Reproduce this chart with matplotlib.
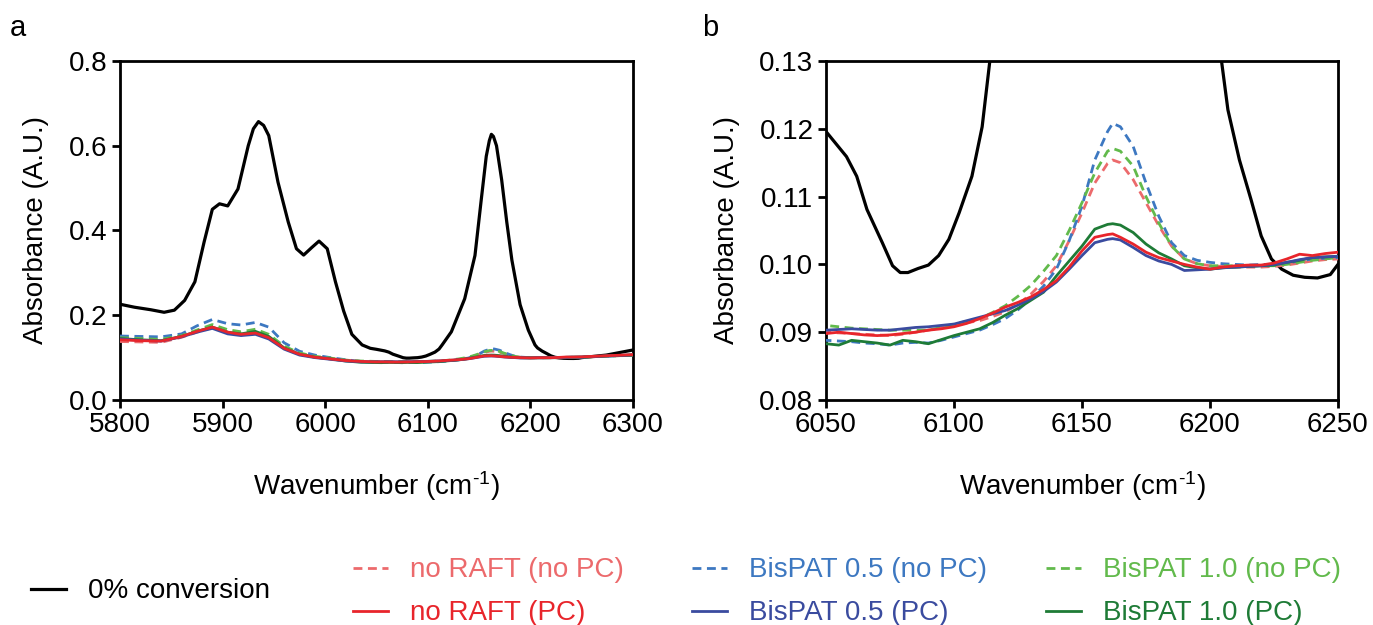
import matplotlib
matplotlib.use('Agg')
import matplotlib.pyplot as plt
from matplotlib.lines import Line2D
from matplotlib.ticker import FormatStrFormatter, MultipleLocator

plt.rcParams['font.family'] = ['Liberation Sans', 'DejaVu Sans']
plt.rcParams['mathtext.default'] = 'regular'

# ── data ─────────────────────────────────────────────────────────────────────
# 0% conversion spectrum
wn_black = [5800, 5814, 5830, 5843, 5853, 5863, 5873, 5882, 5890, 5897, 5905,
            5915, 5925, 5930, 5935, 5940, 5945, 5954, 5964, 5972, 5979, 5987,
            5994, 6002, 6010, 6018, 6026, 6036, 6044, 6050, 6058, 6062, 6066,
            6072, 6076, 6079, 6082, 6086, 6090, 6094, 6098, 6102, 6107, 6111,
            6114, 6123, 6136, 6146, 6152, 6157, 6160, 6162, 6164, 6167, 6172,
            6177, 6182, 6190, 6198, 6204.5, 6207, 6211.5, 6216, 6220, 6224,
            6228, 6232.5, 6237, 6242, 6247, 6250, 6274, 6300]
abs_black = [0.226, 0.219, 0.213, 0.207, 0.212, 0.235, 0.279, 0.373, 0.450,
             0.463, 0.458, 0.498, 0.600, 0.640, 0.657, 0.648, 0.624, 0.514,
             0.420, 0.357, 0.342, 0.360, 0.375, 0.357, 0.279, 0.210, 0.155,
             0.130, 0.122, 0.1196, 0.1159, 0.1130, 0.1081, 0.1032, 0.0998,
             0.0988, 0.0988, 0.0994, 0.0999, 0.1013, 0.1037, 0.1076, 0.1130,
             0.1203, 0.130, 0.161, 0.239, 0.341, 0.470, 0.575, 0.612, 0.627,
             0.622, 0.600, 0.520, 0.420, 0.330, 0.225, 0.165, 0.130, 0.1228,
             0.1154, 0.1096, 0.1042, 0.1008, 0.0993, 0.0984, 0.0981, 0.0980,
             0.0985, 0.1000, 0.106, 0.118]

# sample spectra, shared wavenumber grid
wn = [5800, 5820, 5840, 5860, 5875, 5890, 5905, 5918, 5932, 5945, 5960, 5975,
      5990, 6005, 6020, 6035,
      6050, 6055, 6060, 6065, 6070, 6075, 6080, 6085, 6090, 6095, 6100, 6105,
      6110, 6115, 6120, 6125, 6130, 6135, 6140, 6145, 6150, 6155, 6160, 6162,
      6165, 6170, 6175, 6180, 6185, 6190, 6195, 6200, 6205, 6210, 6215, 6220,
      6225, 6230, 6235, 6240, 6245, 6250,
      6275, 6300]

norf_nopc = [0.138, 0.137, 0.136, 0.148, 0.160, 0.171, 0.160, 0.156, 0.160,
             0.149, 0.124, 0.109, 0.102, 0.098, 0.094, 0.091,
             0.0900, 0.0899, 0.0898, 0.0897, 0.0896, 0.0895, 0.0897, 0.0900,
             0.0903, 0.0907, 0.0910, 0.0914, 0.0917, 0.0923, 0.0930, 0.0941,
             0.0956, 0.0975, 0.0998, 0.1035, 0.1076, 0.1120, 0.1149, 0.1154,
             0.1150, 0.1125, 0.1091, 0.1057, 0.1027, 0.1008, 0.1001, 0.0998,
             0.0997, 0.0996, 0.0996, 0.0996, 0.0997, 0.0999, 0.1002, 0.1005,
             0.1007, 0.1008,
             0.1035, 0.1060]
norf_pc = [0.142, 0.140, 0.139, 0.150, 0.162, 0.172, 0.160, 0.155, 0.158,
           0.147, 0.122, 0.108, 0.101, 0.097, 0.093, 0.091,
           0.0898, 0.0900, 0.0898, 0.0896, 0.0895, 0.0896, 0.0898, 0.0900,
           0.0903, 0.0905, 0.0908, 0.0913, 0.0920, 0.0928, 0.0937, 0.0944,
           0.0952, 0.0963, 0.0976, 0.0996, 0.1020, 0.1040, 0.1044, 0.1045,
           0.1040, 0.1030, 0.1018, 0.1010, 0.1005, 0.1000, 0.0996, 0.0993,
           0.0996, 0.0998, 0.0999, 0.0999, 0.1002, 0.1008, 0.1015, 0.1013,
           0.1016, 0.1018,
           0.1045, 0.1070]
bis05_nopc = [0.151, 0.150, 0.149, 0.156, 0.175, 0.190, 0.180, 0.177, 0.183,
              0.172, 0.135, 0.115, 0.106, 0.100, 0.095, 0.091,
              0.0888, 0.0887, 0.0886, 0.0884, 0.0883, 0.0881, 0.0884, 0.0885,
              0.0884, 0.0888, 0.0893, 0.0898, 0.0903, 0.0911, 0.0920, 0.0933,
              0.0949, 0.0968, 0.0993, 0.1035, 0.1086, 0.1154, 0.1196, 0.1208,
              0.1203, 0.1174, 0.1120, 0.1071, 0.1032, 0.1013, 0.1006, 0.1003,
              0.1001, 0.1000, 0.0999, 0.1000, 0.1000, 0.1002, 0.1005, 0.1008,
              0.1009, 0.1010,
              0.1035, 0.1055]
bis05_pc = [0.144, 0.141, 0.139, 0.149, 0.160, 0.169, 0.156, 0.152, 0.155,
            0.144, 0.120, 0.106, 0.100, 0.096, 0.092, 0.090,
            0.0903, 0.0904, 0.0905, 0.0904, 0.0903, 0.0903, 0.0905, 0.0907,
            0.0908, 0.0910, 0.0912, 0.0917, 0.0922, 0.0927, 0.0932, 0.0940,
            0.0949, 0.0960, 0.0974, 0.0993, 0.1013, 0.1032, 0.1037, 0.1038,
            0.1036, 0.1025, 0.1013, 0.1005, 0.1000, 0.0991, 0.0992, 0.0993,
            0.0995, 0.0996, 0.0997, 0.0998, 0.1000, 0.1003, 0.1007, 0.1010,
            0.1011, 0.1012,
            0.1040, 0.1065]
bis10_nopc = [0.147, 0.145, 0.143, 0.152, 0.165, 0.178, 0.166, 0.161, 0.167,
              0.155, 0.127, 0.111, 0.103, 0.099, 0.094, 0.092,
              0.0910, 0.0908, 0.0906, 0.0905, 0.0904, 0.0903, 0.0903, 0.0903,
              0.0903, 0.0907, 0.0912, 0.0916, 0.0920, 0.0929, 0.0939, 0.0953,
              0.0969, 0.0990, 0.1013, 0.1050, 0.1091, 0.1135, 0.1167, 0.1171,
              0.1167, 0.1145, 0.1100, 0.1061, 0.1027, 0.1008, 0.1001, 0.0998,
              0.0998, 0.0998, 0.0998, 0.0998, 0.0998, 0.1000, 0.1003, 0.1006,
              0.1008, 0.1010,
              0.1035, 0.1058]
bis10_pc = [0.145, 0.142, 0.140, 0.150, 0.162, 0.172, 0.160, 0.156, 0.162,
            0.150, 0.123, 0.108, 0.101, 0.097, 0.092, 0.089,
            0.0883, 0.0881, 0.0888, 0.0886, 0.0884, 0.0881, 0.0888, 0.0886,
            0.0883, 0.0889, 0.0895, 0.0900, 0.0905, 0.0914, 0.0925, 0.0935,
            0.0947, 0.0959, 0.0983, 0.1005, 0.1027, 0.1052, 0.1059, 0.1060,
            0.1058, 0.1047, 0.1030, 0.1017, 0.1008, 0.0998, 0.0995, 0.0993,
            0.0995, 0.0996, 0.0997, 0.0998, 0.0999, 0.1003, 0.1006, 0.1010,
            0.1011, 0.1012,
            0.1040, 0.1062]

DASH = (0, (3.2, 2.0))
series = [
    ('no RAFT (no PC)', norf_nopc, '#EC6A6C', DASH),
    ('BisPAT 0.5 (no PC)', bis05_nopc, '#3D78C1', DASH),
    ('BisPAT 1.0 (no PC)', bis10_nopc, '#62BA4C', DASH),
    ('BisPAT 1.0 (PC)', bis10_pc, '#1E7B36', '-'),
    ('BisPAT 0.5 (PC)', bis05_pc, '#3A4B9F', '-'),
    ('no RAFT (PC)', norf_pc, '#E8252B', '-'),
]

FS = 20
XLAB = 'Wavenumber (cm$^{\u2010' + '1}$)'

# ── figure ───────────────────────────────────────────────────────────────────
fig = plt.figure(figsize=(13.73, 6.25), dpi=100)
ax1 = fig.add_axes([0.0874, 0.360, 0.3736, 0.5424])
ax2 = fig.add_axes([0.6016, 0.360, 0.3729, 0.5424])

for ax in (ax1, ax2):
    ax.plot(wn_black, abs_black, color='black', lw=2.3, zorder=2)
    for label, vals, col, ls in series:
        ax.plot(wn, vals, color=col, ls=ls, lw=2.0, zorder=3)
    for s in ax.spines.values():
        s.set_linewidth(2.0)
    ax.tick_params(width=2.0, length=6, labelsize=FS, pad=3)
    ax.set_xlabel(XLAB, fontsize=FS, labelpad=22)
    ax.set_ylabel('Absorbance (A.U.)', fontsize=FS, labelpad=14)

ax1.set_xlim(5800, 6300)
ax1.set_ylim(0.0, 0.8)
ax1.xaxis.set_major_locator(MultipleLocator(100))
ax1.yaxis.set_major_locator(MultipleLocator(0.2))
ax1.yaxis.set_major_formatter(FormatStrFormatter('%.1f'))

ax2.set_xlim(6050, 6250)
ax2.set_ylim(0.08, 0.13)
ax2.xaxis.set_major_locator(MultipleLocator(50))
ax2.yaxis.set_major_locator(MultipleLocator(0.01))
ax2.yaxis.set_major_formatter(FormatStrFormatter('%.2f'))

fig.text(0.007, 0.955, 'a', fontsize=21, va='center')
fig.text(0.511, 0.955, 'b', fontsize=21, va='center')

# ── legends ──────────────────────────────────────────────────────────────────
leg_kw = dict(frameon=False, fontsize=FS, handlelength=1.25, handletextpad=0.8,
              labelspacing=0.62, labelcolor='linecolor', borderaxespad=0,
              borderpad=0)
h_black = [Line2D([], [], color='black', lw=2.3)]
fig.legend(h_black, ['0% conversion'], loc='center left',
           bbox_to_anchor=(0.0226, 0.054), **leg_kw)

cols = {'no RAFT': 0.257, 'BisPAT 0.5': 0.504, 'BisPAT 1.0': 0.762}
for key, x0 in cols.items():
    hs, labs = [], []
    for label, vals, col, ls in series:
        if label.startswith(key):
            hs.append(Line2D([], [], color=col, ls=ls, lw=2.0))
            labs.append(label)
    order = sorted(range(len(labs)), key=lambda i: 'no PC' not in labs[i])
    fig.legend([hs[i] for i in order], [labs[i] for i in order],
               loc='center left', bbox_to_anchor=(x0, 0.053), **leg_kw)

fig.savefig('out.png', dpi=100)
